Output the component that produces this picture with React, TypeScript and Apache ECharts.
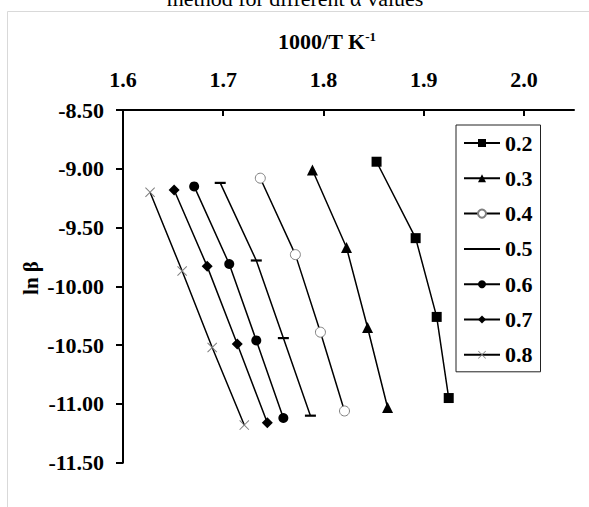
import React, { useEffect, useRef } from "react";
import * as echarts from "echarts";

const alphaLabels = ["0.2", "0.3", "0.4", "0.5", "0.6", "0.7", "0.8"];

const invT02 = [1.853, 1.892, 1.913, 1.925];
const lnB02 = [-8.94, -9.59, -10.26, -10.95];
const invT03 = [1.789, 1.823, 1.844, 1.864];
const lnB03 = [-9.01, -9.67, -10.35, -11.03];
const invT04 = [1.737, 1.772, 1.797, 1.821];
const lnB04 = [-9.08, -9.73, -10.39, -11.06];
const invT05 = [1.697, 1.733, 1.76, 1.787];
const lnB05 = [-9.12, -9.78, -10.44, -11.1];
const invT06 = [1.671, 1.706, 1.733, 1.76];
const lnB06 = [-9.15, -9.81, -10.46, -11.12];
const invT07 = [1.651, 1.684, 1.714, 1.744];
const lnB07 = [-9.18, -9.83, -10.49, -11.16];
const invT08 = [1.627, 1.659, 1.689, 1.721];
const lnB08 = [-9.2, -9.87, -10.52, -11.18];

const xTickValues = [1.6, 1.7, 1.8, 1.9, 2.0];

const FONT = "'Liberation Serif', 'Times New Roman', serif";

const DASH = "path://M0,4.4H11V6.6H0ZM0,0M11,11";
const CROSS =
  "path://M0,0.7L0.7,0L5,4.3L9.3,0L10,0.7L5.7,5L10,9.3L9.3,10L5,5.7L0.7,10L0,9.3L4.3,5Z";

const pairs = (xs: number[], ys: number[]) => xs.map((x, i) => [x, ys[i]]);

export default function App() {
  const ref = useRef<HTMLDivElement>(null);
  useEffect(() => {
    if (!ref.current) return;
    const chart = echarts.init(ref.current, null, { renderer: "svg" });
    const seriesDefs = [
      { name: alphaLabels[0], data: pairs(invT02, lnB02), symbol: "rect", symbolSize: 10, item: { color: "#000" } },
      { name: alphaLabels[1], data: pairs(invT03, lnB03), symbol: "triangle", symbolSize: 11, item: { color: "#000" } },
      { name: alphaLabels[2], data: pairs(invT04, lnB04), symbol: "circle", symbolSize: 10, item: { color: "#fff", borderColor: "#808080", borderWidth: 1 } },
      { name: alphaLabels[3], data: pairs(invT05, lnB05), symbol: DASH, symbolSize: 11, item: { color: "#000" } },
      { name: alphaLabels[4], data: pairs(invT06, lnB06), symbol: "circle", symbolSize: 10, item: { color: "#000" } },
      { name: alphaLabels[5], data: pairs(invT07, lnB07), symbol: "diamond", symbolSize: 11, item: { color: "#000" } },
      { name: alphaLabels[6], data: pairs(invT08, lnB08), symbol: CROSS, symbolSize: 10, item: { color: "#808080" } },
    ];
    chart.setOption({
      animation: false,
      backgroundColor: "#fff",
      textStyle: { fontFamily: FONT },
      grid: { left: 123, right: 15, top: 110, bottom: 44.3, containLabel: false },
      xAxis: {
        type: "value",
        position: "top",
        min: 1.6,
        max: 2.05,
        interval: 0.1,
        splitLine: { show: false },
        axisLine: { lineStyle: { color: "#000", width: 2 } },
        axisTick: { inside: true, length: 6, lineStyle: { color: "#000", width: 2 }, customValues: xTickValues },
        axisLabel: {
          customValues: xTickValues,
          margin: 20,
          color: "#000",
          fontFamily: FONT,
          fontWeight: "bold",
          fontSize: 22,
          formatter: (v: number) => v.toFixed(1),
        },
      },
      yAxis: {
        type: "value",
        min: -11.5,
        max: -8.5,
        interval: 0.5,
        splitLine: { show: false },
        axisLine: { onZero: false, lineStyle: { color: "#000", width: 2 } },
        axisTick: { inside: false, length: 7, lineStyle: { color: "#000", width: 2 } },
        axisLabel: {
          margin: 19,
          color: "#000",
          fontFamily: FONT,
          fontWeight: "bold",
          fontSize: 22,
          formatter: (v: number) => v.toFixed(2),
        },
      },
      legend: {
        orient: "vertical",
        left: 456,
        top: 125,
        padding: [7, 8, 6, 7],
        itemGap: 13.3,
        itemWidth: 36,
        itemHeight: 10,
        borderColor: "#222",
        borderWidth: 1,
        textStyle: { color: "#000", fontFamily: FONT, fontWeight: "bold", fontSize: 22 },
        data: alphaLabels.map((n) => n),
      },
      graphic: [
        {
          type: "rect",
          shape: { x: 7.5, y: 11.5, width: 620, height: 620 },
          style: { fill: "none", stroke: "#d9d9d9", lineWidth: 1 },
          silent: true,
        },
        {
          type: "text",
          x: 295,
          y: -1.5,
          style: {
            text: "method for different α values",
            fontFamily: FONT,
            fontSize: 22,
            fill: "#000",
            align: "center",
            verticalAlign: "middle",
          },
        },
        {
          type: "text",
          x: 327,
          y: 41,
          style: {
            text: "{a|1000/T K}{b|-1}",
            align: "center",
            verticalAlign: "middle",
            rich: {
              a: { fontFamily: FONT, fontWeight: "bold", fontSize: 22, lineHeight: 22, fill: "#000", color: "#000" },
              b: { fontFamily: FONT, fontWeight: "bold", fontSize: 13, lineHeight: 13, verticalAlign: "top", fill: "#000", color: "#000" },
            },
          },
        },
        {
          type: "text",
          x: 31,
          y: 278,
          rotation: Math.PI / 2,
          style: {
            text: "ln β",
            fontFamily: FONT,
            fontWeight: "bold",
            fontSize: 21,
            fill: "#000",
            align: "center",
            verticalAlign: "middle",
          },
        },
      ],
      series: seriesDefs.map((s) => ({
        type: "line",
        name: s.name,
        data: s.data,
        symbol: s.symbol,
        symbolSize: s.symbolSize,
        showAllSymbol: true,
        lineStyle: { color: "#000", width: 1.5 },
        itemStyle: s.item,
        z: 3,
      })),
    });
    return () => chart.dispose();
  }, []);
  return (
    <div
      ref={ref}
      style={{ position: "fixed", left: 0, top: 0, width: 589, height: 507 }}
    />
  );
}
